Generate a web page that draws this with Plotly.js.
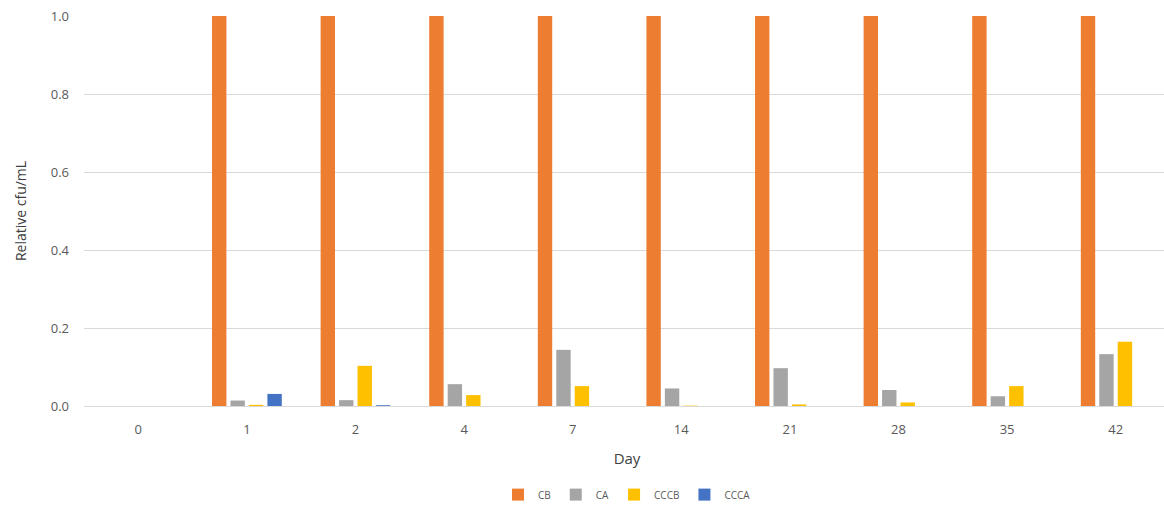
<!DOCTYPE html>
<html><head><meta charset="utf-8">
<script src="https://cdn.plot.ly/plotly-3.0.1.min.js"></script>
<style>html,body{margin:0;background:#fff;overflow:hidden}#chart{width:1172px;height:512px}</style>
</head><body><div id="chart"></div>
<script>
const days = ["0","1","2","4","7","14","21","28","35","42"];
const CB   = [0, 1, 1, 1, 1, 1, 1, 1, 1, 1];
const CA   = [0, 0.014, 0.015, 0.056, 0.144, 0.045, 0.097, 0.041, 0.025, 0.133];
const CCCB = [0, 0.003, 0.103, 0.028, 0.051, 0.001, 0.004, 0.009, 0.051, 0.165];
const CCCA = [0, 0.031, 0.002, 0, 0, 0, 0, 0, 0, 0];

const names = ["CB","CA","CCCB","CCCA"];
const series = [CB, CA, CCCB, CCCA];
const colors = ["#ed7d31","#a5a5a5","#ffc000","#4472c4"];

const traces = series.map((s,i)=>({
  type:"bar", name:names[i], x:days, y:s,
  marker:{color:colors[i]}, hoverinfo:"skip"
}));

const layout = {
  width:1172, height:512,
  margin:{l:84, r:2, t:16, b:106},
  paper_bgcolor:"#fff", plot_bgcolor:"#fff",
  font:{family:"Open Sans, Liberation Sans, sans-serif", color:"#595959"},
  barmode:"group", bargap:0.32, bargroupgap:0.22,
  xaxis:{type:"category", showgrid:false, zeroline:false, showline:false,
    tickfont:{size:13, color:"#595959"}, ticks:"", ticklabelstandoff:14,
    title:{text:"Day", font:{size:15, color:"#404040"}, standoff:16}},
  yaxis:{range:[0,1], dtick:0.2, tickformat:".1f", gridcolor:"#d9d9d9", gridwidth:1,
    zeroline:true, zerolinecolor:"#d9d9d9", showline:false,
    tickfont:{size:13, color:"#595959"}, ticks:"", ticklen:0, ticklabelstandoff:14,
    title:{text:"Relative cfu/mL", font:{size:14, color:"#404040"}, standoff:20}},
  showlegend:true,
  legend:{orientation:"h", x:0.5, xanchor:"center", y:-0.19, yanchor:"top",
    font:{size:10, color:"#595959"}, itemwidth:30, traceorder:"normal"}
};
Plotly.newPlot("chart", traces, layout, {displayModeBar:false, staticPlot:true});
</script></body></html>
